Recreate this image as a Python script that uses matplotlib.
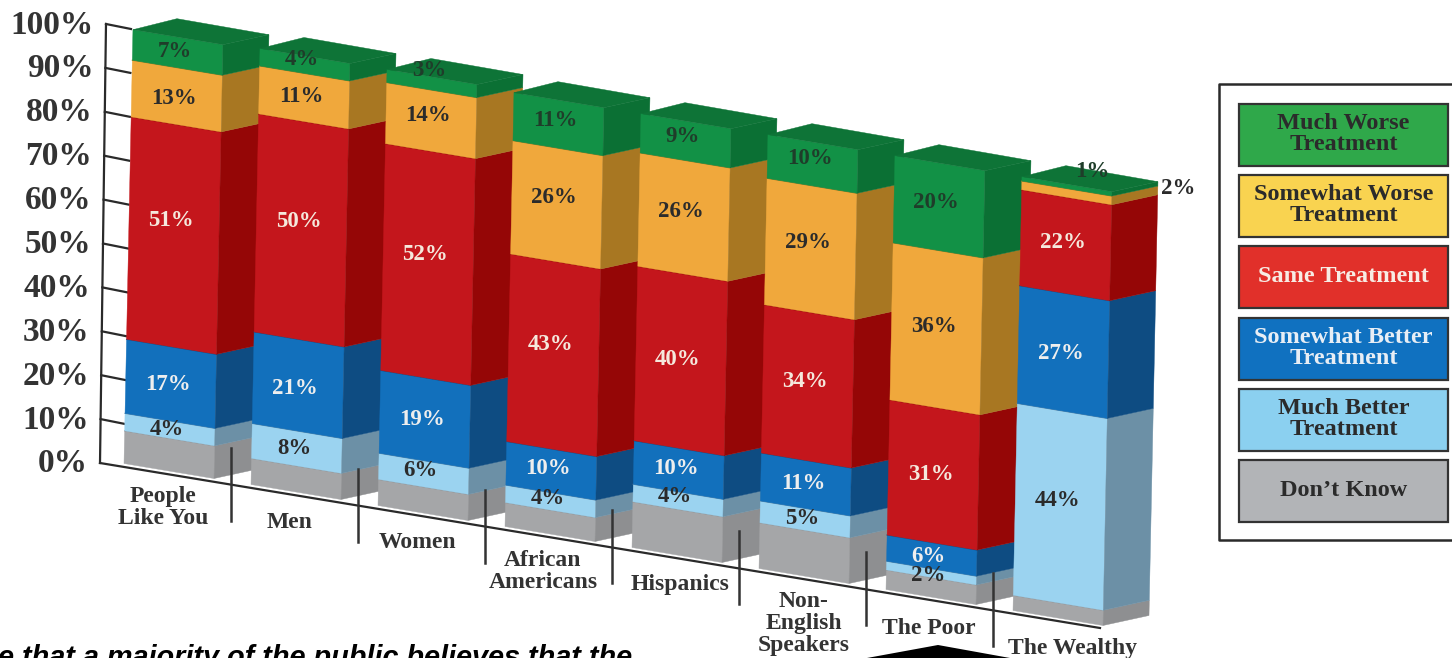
import matplotlib
matplotlib.use('Agg')
import matplotlib.pyplot as plt

# chart values, bottom to top of the stack
groups = ['People\nLike You', 'Men', 'Women', 'African\nAmericans', 'Hispanics',
          'Non-\nEnglish\nSpeakers', 'The Poor', 'The Wealthy']
dont_know = [7.5, 6, 6, 5.5, 10.5, 10.5, 4.5, 3.5]
much_better = [4, 8, 6, 4, 4, 5, 2, 44]
somewhat_better = [17, 21, 19, 10, 10, 11, 6, 27]
same = [51, 50, 52, 43, 40, 34, 31, 22]
somewhat_worse = [13, 11, 14, 26, 26, 29, 36, 2]
much_worse = [7, 4, 3, 11, 9, 10, 20, 1]
y_ticks = [0, 10, 20, 30, 40, 50, 60, 70, 80, 90, 100]

# front colour, side colour, label colour
styles = [('#a5a6a8', '#8e8f91', None),
          ('#9bd3f0', '#6c90a6', '#2b2b2b'),
          ('#1270bc', '#0e4c82', '#eeeeee'),
          ('#c4161c', '#950606', '#f5e8dc'),
          ('#f0a83c', '#a87722', '#2b2b2b'),
          ('#129146', '#0b7034', '#1f3d2a')]
stack = [dont_know, much_better, somewhat_better, same, somewhat_worse, much_worse]
top_colour = '#0e7437'

# hand nudges for the value labels, same order as the stack (pixels)
label_dy = [None,
            [0, 0, -3, -3, -3.5, -1, 2, -6],
            [1, 3, 0, -2, -1, -1, 1, 1],
            [-15, -9, -9.5, -11, -1, -5, 0, -3],
            [2, -1, -5, -7, -6, -6, -2, 0],
            [-1, -5, -13.5, -4, -4, -5, -4, -15]]
cat_dx = [39, 39, 39, 38, 48, 45, 43, 60]
cat_dy = [44, 38, 37, 45, 37, 55, 39, 38]

legend_names = ['Much Worse\nTreatment', 'Somewhat Worse\nTreatment', 'Same Treatment',
                'Somewhat Better\nTreatment', 'Much Better\nTreatment', "Don\u2019t Know"]
legend_colours = ['#2fa84a', '#f9d350', '#e1302a', '#1071c0', '#8bd0f0', '#b2b4b7']
legend_text = ['#2b2b2b', '#2b2b2b', '#f7ece4', '#e8eef5', '#2b2b2b', '#2b2b2b']

# slanted projection of the drawing
X0, Y0 = 124, 463.5
STEP_X, STEP_Y = 127, 21
LEAN, PX_PER_PCT = 0.09, 4.36
FACE_W, FACE_DROP = 90, 15
DEPTH_X, DEPTH_Y = 46, -10
DARK = '#2a2a2a'
SERIF = 'Liberation Serif'


def project(i, v):
    return X0 + STEP_X * i + LEAN * v, Y0 + STEP_Y * i - PX_PER_PCT * v


def axis_point(v):
    return 100 + 0.06 * v, 463 - 4.39 * v


def baseline_y(x):
    return 463 + 0.165 * (x - 100)


plt.rcParams['font.family'] = [SERIF, 'DejaVu Serif']
fig = plt.figure(figsize=(14.52, 6.58), dpi=100)
ax = fig.add_axes([0, 0, 1, 1])
ax.set_xlim(0, 1452)
ax.set_ylim(658, 0)
ax.axis('off')

# axis and tick marks sit behind the bars
ax.plot(*zip(axis_point(0), axis_point(100)), color=DARK, lw=1.6, zorder=1)
for v in y_ticks:
    ax_x, ax_y = axis_point(v)
    if v > 0:
        ax.plot([ax_x, ax_x + 25], [ax_y, ax_y + 5], color=DARK, lw=1.6, zorder=1)
    ax.text(ax_x - 12, ax_y + 1, str(v) + '%', ha='right', va='center',
            fontsize=24, fontweight='bold', color='#333333')
ax.plot([100, 1100], [baseline_y(100), baseline_y(1100)], color=DARK, lw=1.6, zorder=1)

# bars left to right, each one covers the side of the one before
for i in range(len(groups)):
    z = 2 + i
    bottom = 0
    for s, values in enumerate(stack):
        top = bottom + values[i]
        front, side, label_colour = styles[s]
        x1, y1 = project(i, bottom)
        x2, y2 = project(i, top)
        ax.fill([x1, x1 + FACE_W, x2 + FACE_W, x2],
                [y1, y1 + FACE_DROP, y2 + FACE_DROP, y2],
                color=front, lw=0.3, zorder=z)
        ax.fill([x1 + FACE_W, x1 + FACE_W + DEPTH_X, x2 + FACE_W + DEPTH_X, x2 + FACE_W],
                [y1 + FACE_DROP, y1 + FACE_DROP + DEPTH_Y, y2 + FACE_DROP + DEPTH_Y, y2 + FACE_DROP],
                color=side, lw=0.3, zorder=z)
        # thin darker seam along the top of each front face
        if s < len(stack) - 1:
            ax.plot([x2, x2 + FACE_W], [y2, y2 + FACE_DROP], color=side, lw=0.8, zorder=z)
        bottom = top
    x, y = project(i, bottom)
    ax.fill([x, x + FACE_W, x + FACE_W + DEPTH_X, x + DEPTH_X - 2],
            [y, y + FACE_DROP, y + FACE_DROP + DEPTH_Y, y + DEPTH_Y - 1],
            color=top_colour, lw=0.3, zorder=z)

# value labels go above all bars
for i in range(len(groups)):
    bottom = 0
    for s, values in enumerate(stack):
        top = bottom + values[i]
        if s > 0:
            x, y = project(i, (bottom + top) / 2)
            tx = x + FACE_W / 2 - 3
            ty = y + FACE_DROP / 2 + label_dy[s][i]
            if i == 7 and s == 5:
                tx += 28
            ha = 'center'
            if i == 7 and s == 4:
                # the 2% sits outside the thin band
                tx, ty, ha = x + FACE_W + DEPTH_X + 3, y + 3, 'left'
            ax.text(tx, ty, str(values[i]) + '%', ha=ha, va='center', fontsize=16.5,
                    fontweight='bold', color=styles[s][2], zorder=20)
        bottom = top

# dividers between the groups and their names
for i, name in enumerate(groups):
    x, y = project(i, 0)
    if i < len(groups) - 1:
        tick_x = x + 107
        ax.plot([tick_x, tick_x], [baseline_y(tick_x) - 37, baseline_y(tick_x) + 36],
                color='#333333', lw=1.8, zorder=15)
    ax.text(x + cat_dx[i], y + cat_dy[i], name, ha='center', va='center', fontsize=17,
            fontweight='bold', color='#333333', linespacing=1.06, zorder=20)

# legend box runs off the right side
ax.plot([1452, 1219, 1219, 1452], [84, 84, 540, 540], color=DARK, lw=1.8, zorder=1)
for k, name in enumerate(legend_names):
    y_top = 104 + 71.2 * k
    ax.add_patch(plt.Rectangle((1239, y_top), 209, 62, facecolor=legend_colours[k],
                               edgecolor='#333333', lw=1.6, zorder=2))
    ax.text(1343.5, y_top + 30, name, ha='center', va='center', fontsize=17.5,
            fontweight='bold', color=legend_text[k], linespacing=1.0, zorder=3)

# leftovers of the page around the chart
ax.fill([867, 938, 1010], [658, 645, 658], color='black', lw=0, zorder=20)
ax.text(-2, 666, 'e that a majority of the public believes that the', ha='left',
        va='baseline', fontsize=20.8, fontweight='bold', fontstyle='italic',
        family=['Liberation Sans', 'DejaVu Sans'], color='black', zorder=20)

fig.savefig('out.png', dpi=100)
